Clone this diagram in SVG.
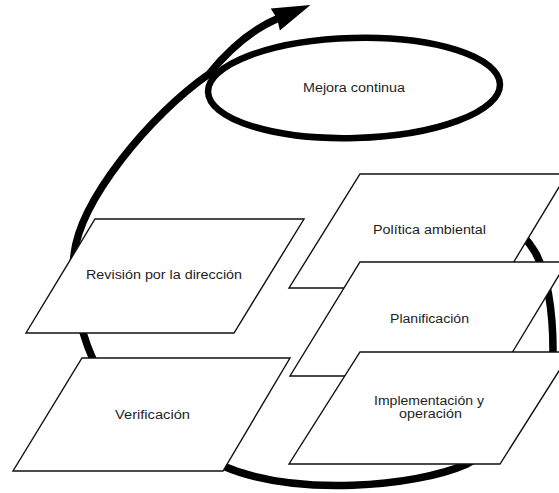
<svg xmlns="http://www.w3.org/2000/svg" width="559" height="493" viewBox="0 0 559 493">
  <style>
    .box { fill: #ffffff; stroke: #111111; stroke-width: 1.4; stroke-linejoin: miter; }
    .loop { fill: none; stroke: #000000; stroke-width: 7.5; stroke-linecap: butt; }
    .ell { fill: none; stroke: #000000; stroke-width: 6.5; }
    .lbl { font-family: "Liberation Sans", Arial, sans-serif; font-size: 12.5px; fill: #1e1e1e; text-anchor: middle; }
  </style>
  <defs>
    <marker id="ah" markerUnits="userSpaceOnUse" viewBox="-8 -16 48 32" markerWidth="48" markerHeight="32" refX="0" refY="0" orient="auto">
      <path d="M-4,-12 L34,0 L-4,12 L-2,0 Z" fill="#000000"/>
    </marker>
  </defs>

  <g id="connectors">
    <path class="loop" marker-end="url(#ah)" d="M472,196 C500,212 523,232 535,252 C547,273 553,310 553,350 C551,392 503,446 467,464 C415,487 295,497 223,466 C165,449 115,412 92,357 C80,330 70,285 74,255 C80,200 150,115 209,74 C222,58 245,32 279,18"/>
  </g>

  <g id="node-mejora">
    <ellipse class="ell" cx="354" cy="88" rx="146" ry="50" transform="rotate(-1.5 354 88)"/>
    <text class="lbl" x="354" y="92" textLength="102" lengthAdjust="spacingAndGlyphs">Mejora continua</text>
  </g>

  <g id="node-revision">
    <polygon class="box" points="95,219 304,219 234,333 26,333"/>
    <text class="lbl" x="164" y="279" textLength="156" lengthAdjust="spacingAndGlyphs">Revisión por la dirección</text>
  </g>

  <g id="node-verificacion">
    <polygon class="box" points="82,358 290,358 223,471 13,471"/>
    <text class="lbl" x="152.5" y="419" textLength="75" lengthAdjust="spacingAndGlyphs">Verificación</text>
  </g>

  <g id="node-politica">
    <polygon class="box" points="360,174 567,174 498,288 289,288"/>
    <text class="lbl" x="429.5" y="234" textLength="113" lengthAdjust="spacingAndGlyphs">Política ambiental</text>
  </g>

  <g id="node-planificacion">
    <polygon class="box" points="360,262 567,262 498,376 290,376"/>
    <text class="lbl" x="429.5" y="323" textLength="79" lengthAdjust="spacingAndGlyphs">Planificación</text>
  </g>

  <g id="node-implementacion">
    <polygon class="box" points="360,352 571,352 500,464 289,464"/>
    <text class="lbl" x="429" y="405" textLength="110" lengthAdjust="spacingAndGlyphs">Implementación y</text>
    <text class="lbl" x="430.5" y="418" textLength="63" lengthAdjust="spacingAndGlyphs">operación</text>
  </g>
</svg>
